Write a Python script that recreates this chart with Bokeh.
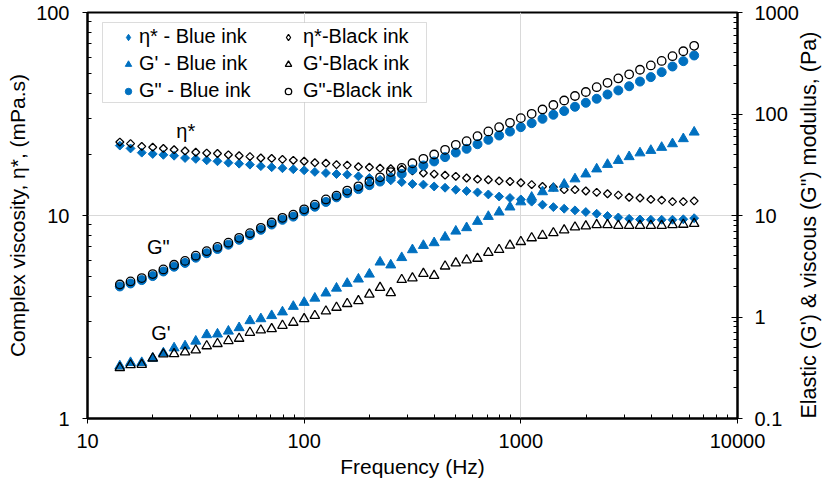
import math
import numpy as np
from bokeh.plotting import figure
from bokeh.models import (Range1d, LogScale, LogAxis, FixedTicker, ColumnDataSource,
                          Legend, LegendItem, BoxAnnotation, Label, CustomJSTickFormatter)
from bokeh.embed import file_html
from bokeh.resources import INLINE

# ---------------- data ----------------
freq = [14.1, 15.8, 17.8, 20.0, 22.4, 25.1, 28.2, 31.6, 35.5, 39.8,
        44.7, 50.1, 56.2, 63.1, 70.8, 79.4, 89.1, 100, 112, 126,
        141, 158, 178, 200, 224, 251, 282, 316, 355, 398,
        447, 501, 562, 631, 708, 794, 891, 1000, 1122, 1259,
        1413, 1585, 1778, 1995, 2239, 2512, 2818, 3162, 3548, 3981,
        4467, 5012, 5623, 6310]

eta_blue = [22.1, 21.4, 20.4, 20.1, 19.9, 19.7, 19.2, 19.0, 18.7, 18.5,
            18.2, 18.0, 17.8, 17.5, 17.3, 17.1, 16.9, 16.7, 16.4, 16.2,
            16.0, 15.9, 15.6, 15.3, 15.0, 14.9, 14.6, 14.3, 14.2, 13.9,
            13.7, 13.4, 13.2, 13.0, 12.7, 12.4, 12.2, 12.0, 11.7, 11.3,
            11.0, 10.8, 10.6, 10.4, 10.2, 9.95, 9.78, 9.63, 9.56, 9.53,
            9.53, 9.53, 9.58, 9.70]

eta_black = [23.0, 22.6, 21.9, 21.7, 21.4, 21.1, 20.8, 20.5, 20.3, 20.2,
             19.9, 19.7, 19.5, 19.2, 19.1, 18.9, 18.7, 18.5, 18.2, 18.1,
             17.8, 17.7, 17.4, 17.3, 17.1, 17.0, 16.9, 16.6, 16.2, 16.0,
             15.8, 15.6, 15.3, 15.1, 15.0, 14.8, 14.7, 14.5, 14.2, 13.9,
             13.8, 13.4, 13.4, 13.2, 13.0, 12.8, 12.6, 12.3, 12.2, 12.0,
             11.9, 11.7, 11.7, 11.8]

gp_blue = [0.329, 0.355, 0.355, 0.392, 0.442, 0.495, 0.518, 0.577, 0.668, 0.678,
           0.724, 0.783, 0.918, 0.959, 1.03, 1.12, 1.27, 1.39, 1.53, 1.72,
           1.92, 2.14, 2.36, 2.64, 3.47, 3.25, 3.84, 4.59, 5.06, 5.38,
           6.11, 7.00, 7.57, 8.73, 9.77, 10.8, 12.1, 13.6, 15.1, 17.1,
           18.5, 20.3, 22.9, 25.6, 28.7, 31.8, 34.8, 37.9, 41.3, 43.7,
           46.8, 50.8, 57.0, 66.2]

gp_black = [0.316, 0.337, 0.340, 0.392, 0.430, 0.433, 0.450, 0.471, 0.518, 0.545,
            0.583, 0.614, 0.703, 0.741, 0.765, 0.824, 0.883, 0.959, 1.03, 1.14,
            1.24, 1.35, 1.44, 1.67, 1.95, 1.73, 2.33, 2.42, 2.68, 2.56,
            3.16, 3.39, 3.64, 3.77, 4.30, 4.60, 5.08, 5.51, 6.00, 6.35,
            6.73, 7.19, 7.67, 7.85, 8.09, 8.09, 7.96, 7.96, 7.96, 7.96,
            7.96, 8.09, 8.15, 8.31]

gpp_blue = [2.00, 2.14, 2.31, 2.53, 2.81, 3.13, 3.41, 3.84, 4.25, 4.68,
            5.16, 5.76, 6.40, 7.23, 8.15, 9.07, 9.75, 11.0, 12.2, 13.6,
            15.1, 16.6, 18.2, 19.9, 21.6, 23.5, 25.7, 28.4, 31.1, 34.1,
            37.6, 41.7, 45.4, 50.4, 55.7, 61.4, 67.2, 74.2, 81.2, 89.7,
            98.3, 106.9, 117.8, 129.0, 141.3, 155.7, 170.7, 187.7, 208.8, 230.9,
            258.4, 293.8, 331.6, 377.4]

gpp_black = [2.09, 2.24, 2.42, 2.65, 2.94, 3.27, 3.57, 4.02, 4.45, 4.90,
             5.40, 6.03, 6.69, 7.56, 8.53, 9.49, 10.2, 11.5, 12.8, 14.4,
             15.7, 17.6, 19.4, 21.6, 23.8, 26.8, 29.4, 32.7, 36.2, 39.9,
             44.4, 49.7, 54.0, 60.4, 67.3, 74.1, 81.9, 91.0, 100.5, 110.8,
             122.7, 135.8, 150.4, 164.7, 183.7, 203, 224, 246, 273, 301,
             333, 371, 415, 470]

x_ticks = [10, 100, 1000, 10000]
y_left_ticks = [1, 10, 100]
y_right_ticks = [0.1, 1, 10, 100, 1000]

legend_labels = ["η* - Blue ink", "G' - Blue ink", 'G" - Blue ink',
                 "η*-Black ink", "G'-Black ink", 'G"-Black ink']

x_title = "Frequency (Hz)"
y_left_title = "Complex viscosity, η*, (mPa.s)"
y_right_title = 'Elastic (G\') & viscous (G") modulus, (Pa)'

# ---------------- styling ----------------
FONT = "Liberation Sans"
BLUE = "#0070C0"

p = figure(width=835, height=488, x_axis_type="log", y_axis_type="log",
           x_range=Range1d(10, 10000), y_range=Range1d(1, 100),
           output_backend="svg", toolbar_location=None,
           min_border_left=87, min_border_right=95,
           min_border_top=12, min_border_bottom=70)
p.extra_y_ranges = {"right": Range1d(0.1, 1000)}
p.extra_y_scales = {"right": LogScale()}
p.background_fill_color = "white"
p.border_fill_color = "white"
p.outline_line_color = "black"
p.outline_line_width = 2


def minors(decades):
    return [m * 10.0 ** e for e in decades for m in range(2, 10)]


fmt = CustomJSTickFormatter(code="return String(tick)")


def style(ax, tick_in=0):
    ax.axis_line_color = "black"
    ax.axis_line_width = 2
    ax.major_tick_line_color = "black"
    ax.major_tick_out = 5
    ax.major_tick_in = tick_in
    ax.minor_tick_line_color = "black"
    ax.minor_tick_in = 4
    ax.minor_tick_out = 0
    ax.major_label_text_font = FONT
    ax.major_label_text_font_size = "20px"
    ax.major_label_text_color = "black"
    ax.axis_label_text_font = FONT
    ax.axis_label_text_font_size = "21px"
    ax.axis_label_text_font_style = "normal"
    ax.axis_label_text_color = "black"
    ax.formatter = fmt


xax = p.xaxis[0]
xax.ticker = FixedTicker(ticks=x_ticks, minor_ticks=minors([1, 2, 3]))
style(xax)
xax.major_label_standoff = 10
xax.axis_label = x_title
xax.axis_label_standoff = 4

yax = p.yaxis[0]
yax.ticker = FixedTicker(ticks=y_left_ticks, minor_ticks=minors([0, 1]))
style(yax)
yax.major_label_standoff = 13
yax.axis_label = y_left_title
yax.axis_label_standoff = 4

rax = LogAxis(y_range_name="right",
              ticker=FixedTicker(ticks=y_right_ticks, minor_ticks=minors([-1, 0, 1, 2])))
style(rax, tick_in=6)
rax.major_label_standoff = 12
rax.axis_label = y_right_title
rax.axis_label_text_font_size = "21.5px"
rax.axis_label_standoff = 7
try:
    rax.axis_label_orientation = math.pi / 2
    rax.axis_label_align = "start"
except Exception:
    pass
p.add_layout(rax, "right")

p.xgrid.grid_line_color = "#d9d9d9"
p.ygrid.grid_line_color = "#d9d9d9"
p.xgrid.grid_line_width = 1
p.ygrid.grid_line_width = 1

src = ColumnDataSource(dict(freq=freq, eta_blue=eta_blue, eta_black=eta_black,
                            gp_blue=gp_blue, gp_black=gp_black,
                            gpp_blue=gpp_blue, gpp_black=gpp_black))

r_eb = p.scatter("freq", "eta_blue", source=src, marker="square", angle=math.pi / 4,
                 size=6.3, fill_color=BLUE, line_color=BLUE)
r_ek = p.scatter("freq", "eta_black", source=src, marker="square", angle=math.pi / 4,
                 size=5.6, fill_color=None, line_color="black", line_width=1.3)
r_gpb = p.scatter("freq", "gp_blue", source=src, y_range_name="right", marker="triangle",
                  size=10, fill_color=BLUE, line_color=BLUE)
r_gpk = p.scatter("freq", "gp_black", source=src, y_range_name="right", marker="triangle",
                  size=9.5, fill_color=None, line_color="black", line_width=1.3)
r_gppb = p.scatter("freq", "gpp_blue", source=src, y_range_name="right", marker="circle",
                   size=9, fill_color=BLUE, line_color=BLUE)
r_gppk = p.scatter("freq", "gpp_black", source=src, y_range_name="right", marker="circle",
                   size=8.5, fill_color=None, line_color="black", line_width=1.3)

# legend-only proxies (NaN coordinates, never drawn in the plot)
proxy = ColumnDataSource(dict(x=np.array([np.nan]), y=np.array([np.nan])))
pe_b = p.scatter("x", "y", source=proxy, marker="diamond", size=9, fill_color=BLUE, line_color=BLUE)
pe_k = p.scatter("x", "y", source=proxy, marker="diamond", size=9, fill_color=None,
                 line_color="black", line_width=1.2)

box = BoxAnnotation(left=102, right=426, top=22, bottom=102,
                    left_units="canvas", right_units="canvas",
                    top_units="canvas", bottom_units="canvas",
                    fill_color="white", fill_alpha=1.0,
                    line_color="#8c8c8c", line_width=1)
p.add_layout(box)


def make_legend(items, loc, standoff):
    lg = Legend(items=items, location=loc, orientation="vertical",
                label_text_font=FONT, label_text_font_size="20px", label_text_color="black",
                glyph_width=16, glyph_height=22, label_height=22, label_standoff=standoff,
                spacing=4, padding=0, margin=0,
                border_line_color=None, background_fill_alpha=0)
    return lg


leg1 = make_legend([LegendItem(label=legend_labels[0], renderers=[pe_b]),
                    LegendItem(label=legend_labels[1], renderers=[r_gpb]),
                    LegendItem(label=legend_labels[2], renderers=[r_gppb])], (33, 316), 3)
leg2 = make_legend([LegendItem(label=legend_labels[3], renderers=[pe_k]),
                    LegendItem(label=legend_labels[4], renderers=[r_gpk]),
                    LegendItem(label=legend_labels[5], renderers=[r_gppk])], (193, 316), 7)
p.add_layout(leg1)
p.add_layout(leg2)

for txt, fx, fy in [("η*", 28.4, 26.2), ('G"', 21.2, 7.03), ("G'", 21.8, 2.65)]:
    p.add_layout(Label(x=fx, y=fy, text=txt, text_font=FONT, text_font_size="20px",
                       text_color="black", text_align="center", text_baseline="middle"))

open("out.html", "w").write(file_html(p, INLINE))
